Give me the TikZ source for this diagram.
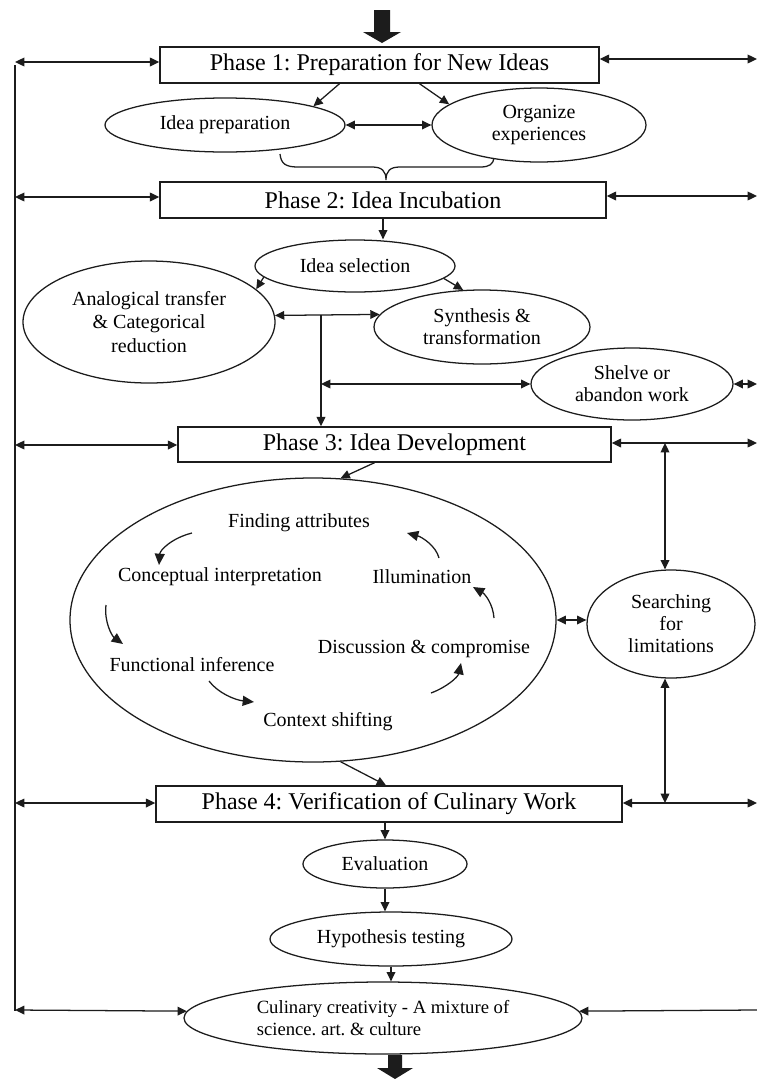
\documentclass[tikz,border=0pt]{standalone}
\usepackage{fontspec}
\setmainfont{Liberation Serif}
\usetikzlibrary{shapes.geometric,arrows.meta,calc}
\definecolor{ink}{HTML}{1C1C1C}
\frenchspacing
\begin{document}
\begin{tikzpicture}[x=0.75pt,y=-0.75pt,
  ln/.style={draw=ink, line width=0.95pt},
  box/.style={draw=ink, line width=1.05pt, rectangle, inner sep=0pt, font=\fontsize{18}{21}\selectfont},
  ell/.style={draw=ink, line width=0.95pt, ellipse, inner sep=0pt, align=center, font=\fontsize{15}{16.5}\selectfont},
  sz/.style 2 args={minimum width=#1*0.75pt, minimum height=#2*0.75pt},
  lbl/.style={font=\fontsize{15}{17}\selectfont, inner sep=0pt},
  arr/.style={ln, -{Triangle[length=7pt,width=6.5pt]}},
  darr/.style={ln, {Triangle[length=7pt,width=6.5pt]}-{Triangle[length=7pt,width=6.5pt]}},
  cyc/.style={ln, -{Triangle[length=8.5pt,width=7.5pt]}},
  fatarrow/.style={fill=ink}
]
\useasboundingbox[fill=white] (0,0) rectangle (757,1079);

% phase boxes
\node[box, sz={439}{36}] (P1) at (379.5,65) {Phase 1: Preparation for New Ideas};
\node[box, sz={446}{36}] (P2) at (383,200) {Phase 2: Idea Incubation};
\node[box, sz={433}{35}] (P3) at (394.5,444.5) {Phase 3: Idea Development};
\node[box, sz={466}{36}] (P4) at (389,804) {Phase 4: Verification of Culinary Work};

% ellipses
\node[ell, sz={240}{54}] (prep) at (225,125) {Idea preparation};
\node[ell, sz={214}{74}] (org) at (539,125) {Organize\\experiences};
\node[ell, sz={200}{52}] (sel) at (355,266) {Idea selection};
\node[ell, sz={252}{122}, font=\fontsize{15}{17.5}\selectfont] (ana) at (149,322) {Analogical transfer\\\& Categorical\\reduction};
\node[ell, sz={216}{74}] (syn) at (482,327) {Synthesis \&\\transformation};
\node[ell, sz={202}{72}] (shelve) at (632,384) {Shelve or\\abandon work};
\node[ell, sz={486}{284}] (big) at (313,620) {};
\node[ell, sz={168}{108}] (search) at (671,624) {Searching\\for\\limitations};
\node[ell, sz={164}{48}] (eval) at (385,864) {Evaluation};
\node[ell, sz={242}{54}] (hyp) at (391,939) {Hypothesis testing};
\node[ell, sz={398}{72}, align=left, font=\fontsize{14}{16.5}\selectfont] (cul) at (383,1018) {Culinary creativity - A mixture of\\science. art. \& culture};

% labels inside the development ellipse
\node[lbl] (fa) at (299,523) {Finding attributes};
\node[lbl] (ci) at (220,577) {Conceptual interpretation};
\node[lbl] (il) at (422,577) {Illumination};
\node[lbl] (dc) at (424,649) {Discussion \& compromise};
\node[lbl] (fi) at (192,665) {Functional inference};
\node[lbl] (cs) at (328,722) {Context shifting};

% cycle arrows
\draw[cyc] (192,533) .. controls (172,538) and (160,550) .. (159,565);
\draw[cyc] (106,605) .. controls (104,622) and (112,636) .. (123,644);
\draw[cyc] (209,681) .. controls (218,693) and (235,700) .. (254,702);
\draw[cyc] (431,693) .. controls (447,687) and (458,677) .. (461,663);
\draw[cyc] (494,618) .. controls (493,604) and (485,594) .. (473,587);
\draw[cyc] (439,558) .. controls (436,546) and (422,537) .. (407,533);

% fat arrows
\fill[fatarrow] (374,10) -- (390,10) -- (390,32) -- (401,32) -- (382,43) -- (363,32) -- (374,32) -- cycle;
\fill[fatarrow] (388,1055) -- (402,1055) -- (402,1068) -- (413,1068) -- (395,1079) -- (377,1068) -- (388,1068) -- cycle;

% left feedback line
\draw[draw=ink, line width=1.6pt] (15,65) -- (15,1011);
\coordinate (L1) at (15,62);
\coordinate (L2) at (15,197);
\coordinate (L3) at (15,445);
\coordinate (L4) at (15,803);
\coordinate (L5) at (15,1010);
\draw[darr] (L1) -- (L1 -| P1.west);
\draw[darr] (L2) -- (L2 -| P2.west);
\draw[darr] (L3) -- (L3 -| P3.west);
\draw[darr] (L4) -- (L4 -| P4.west);
\draw[darr] (L5) -- (cul.178);

% right arrows
\coordinate (R1) at (757,59);
\coordinate (R2) at (757,196);
\coordinate (R3) at (757,443);
\coordinate (R4) at (757,803);
\coordinate (R5) at (757,1010);
\coordinate (R6) at (757,384);
\draw[darr] (R1 -| P1.east) -- (R1);
\draw[darr] (R2 -| P2.east) -- (R2);
\draw[darr] (R3 -| P3.east) -- (R3);
\draw[darr] (R4 -| P4.east) -- (R4);
\draw[arr] (R5) -- (cul.2);
\draw[darr] (shelve.east) -- (R6);

% searching for limitations links
\coordinate (V3) at (665,443);
\coordinate (V4) at (665,803);
\draw[darr] (V3) -- (V3 |- search.north);
\draw[darr] (V4 |- search.south) -- (V4);
\draw[darr] (big.east) -- (big.east -| search.west);

% phase 1
\draw[arr] ($(P1.south)+(-40,0)$) -- (prep.12);
\draw[arr] ($(P1.south)+(40,0)$) -- (org.167);
\draw[darr] (prep.east) -- (org.west);
\draw[ln] (280,154) .. controls (281,164) and (286,167) .. (298,167) -- (372,167) .. controls (382,167) and (386,171) .. (386,180) .. controls (386,171) and (390,167) .. (400,167) -- (480,167) .. controls (490,167) and (493,164) .. (494,158);

% phase 2
\draw[arr] (P2.south) -- (P2.south |- sel.north);
\draw[arr] (sel.187) -- (ana.17);
\draw[arr] (sel.-8) -- (syn.117);
\draw[darr] (ana.3) -- (syn.173);
\coordinate (J1) at (321,315);
\coordinate (J2) at (321,384);
\draw[arr] (J1) -- (J1 |- P3.north);
\draw[darr] (J2) -- (shelve.west);

% phase 3 / 4
\draw[arr] ($(P3.south)+(-20,0)$) -- (big.79);
\draw[arr] (big.-79) -- ($(P4.north)+(-3,0)$);
\draw[arr] (eval.north |- P4.south) -- (eval.north);
\draw[arr] (eval.south) -- (eval.south |- hyp.north);
\draw[arr] (hyp.south) -- (hyp.south |- cul.north);
\end{tikzpicture}
\end{document}
